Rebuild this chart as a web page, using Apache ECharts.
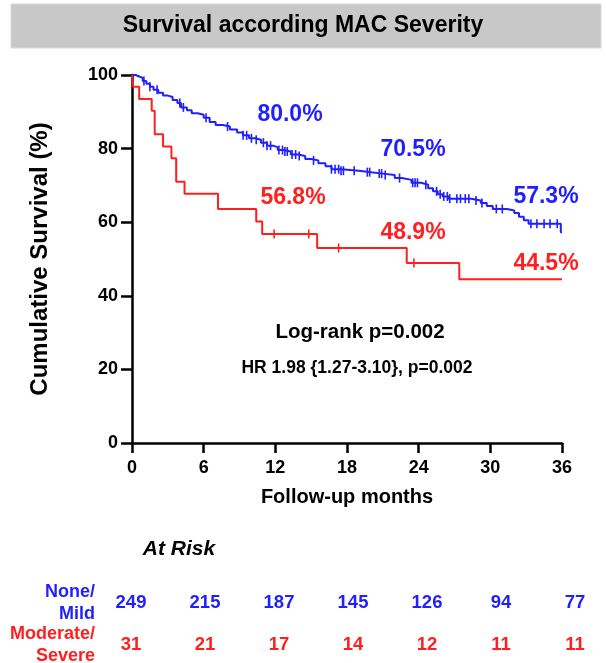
<!DOCTYPE html>
<html><head><meta charset="utf-8">
<script src="https://cdn.jsdelivr.net/npm/echarts@6/dist/echarts.min.js"></script>
<style>html,body{margin:0;padding:0;background:#fff}#c{width:606px;height:663px}</style>
</head><body><div id="c"></div>
<script>
// ---- data ----
const xTicks = [0, 6, 12, 18, 24, 30, 36];
const yTicks = [0, 20, 40, 60, 80, 100];

// Kaplan-Meier steps: [month, survival % after the drop]
const blueSteps = [
  [0,100],[0.3,99.6],[0.6,99.2],[0.9,98.4],[1.2,97.6],[1.5,96.8],[1.8,96.0],[2.2,95.2],
  [2.6,94.4],[3.0,94.0],[3.4,93.2],[3.8,92.4],[4.1,91.2],[4.6,90.4],[5.0,89.6],[5.5,89.2],
  [6.0,88.4],[6.5,87.2],[7.0,86.4],[7.6,86.0],[8.2,85.2],[8.8,84.4],[9.3,83.6],[9.8,82.8],
  [10.3,82.4],[10.8,81.6],[11.3,80.8],[11.8,80.4],[12.2,79.6],[12.7,79.2],[13.3,78.4],
  [13.9,78.0],[14.5,77.2],[15.0,76.8],[15.6,76.0],[16.2,75.2],[16.7,74.4],[17.5,74.0],
  [19.0,73.6],[20.0,73.2],[21.0,72.8],[22.0,72.0],[22.6,71.5],[23.4,70.7],[24.2,70.2],
  [24.8,69.2],[25.2,68.4],[25.6,67.6],[26.0,67.0],[26.5,66.4],[28.4,65.9],[29.2,65.2],
  [29.7,64.4],[30.2,63.6],[31.4,63.2],[32.0,62.5],[32.4,61.5],[32.8,60.5],[33.2,59.6],
  [35.9,57.3],[36,57.3]
];
const redSteps = [
  [0,100],[0.1,96.8],[0.6,93.5],[1.65,90.3],[1.9,83.9],[2.6,80.6],[3.3,77.4],[3.7,71.0],
  [4.4,67.7],[7.2,63.6],[10.4,60.2],[10.9,56.8],[15.5,53.0],[23.0,48.9],[27.4,44.5],[36,44.5]
];
// censored observations (months)
const blueCensor = [1.0,1.5,2.1,4.0,4.3,6.2,8.0,9.3,9.6,10.0,10.4,11.0,11.3,11.6,12.3,12.6,12.8,
  13.0,13.4,13.7,14.0,15.2,16.7,17.0,17.3,17.5,17.7,18.6,19.7,19.9,20.7,20.9,21.2,22.4,23.5,
  23.7,23.9,24.6,25.5,25.8,26.1,26.4,26.6,27.2,27.5,27.9,28.2,28.8,29.3,30.5,31.0,33.4,33.9,
  34.5,35.0,35.6];
const redCensor = [11.9, 14.8, 17.3, 23.6];

const atRiskNoneMild = [249, 215, 187, 145, 126, 94, 77];
const atRiskModSevere = [31, 21, 17, 14, 12, 11, 11];

const blueAnnot = ['80.0%', '70.5%', '57.3%'];
const redAnnot = ['56.8%', '48.9%', '44.5%'];
const statsText = ['Log-rank p=0.002', 'HR 1.98 {1.27-3.10}, p=0.002'];

// ---- rendering ----
const BLUE = '#1f1fff', RED = '#ff1f1f';
const FONT = '"Liberation Sans", Arial, sans-serif';

function survAt(steps, t) {
  let v = steps[0][1];
  for (const s of steps) { if (s[0] <= t) v = s[1]; else break; }
  return v;
}

const chart = echarts.init(document.getElementById('c'), null, {renderer: 'canvas'});

const riskData = (arr, row) => arr.map((n, i) => ({value: [xTicks[i], row], label: {formatter: String(n)}}));

const txt = (x, y, text, color, size, extra) => ({
  type: 'text', x, y,
  style: Object.assign({text, fill: color, font: 'bold ' + size + 'px ' + FONT, align: 'center', verticalAlign: 'middle'}, extra || {})
});

chart.setOption({
  animation: false,
  backgroundColor: '#fff',
  grid: [
    {left: 132, right: 44, top: 75, bottom: 220},
    {left: 131, right: 31, top: 603, height: 42}
  ],
  xAxis: [
    {gridIndex: 0, type: 'value', min: 0, max: 36, interval: 6,
     axisLine: {show: true, onZero: false, lineStyle: {color: '#000', width: 2.5}},
     axisTick: {show: true, length: 10, lineStyle: {color: '#000', width: 2.5}},
     axisLabel: {color: '#000', fontFamily: FONT, fontWeight: 'bold', fontSize: 18, margin: 16},
     splitLine: {show: false},
     name: 'Follow-up months', nameLocation: 'middle', nameGap: 44,
     nameTextStyle: {color: '#000', fontFamily: FONT, fontWeight: 'bold', fontSize: 20}},
    {gridIndex: 1, type: 'value', min: 0, max: 36, show: false}
  ],
  yAxis: [
    {gridIndex: 0, type: 'value', min: 0, max: 100, interval: 20,
     axisLine: {show: true, lineStyle: {color: '#000', width: 2.5}},
     axisTick: {show: true, length: 11, lineStyle: {color: '#000', width: 2.5}},
     axisLabel: {color: '#000', fontFamily: FONT, fontWeight: 'bold', fontSize: 18, margin: 14},
     splitLine: {show: false},
     name: 'Cumulative Survival (%)', nameLocation: 'middle', nameGap: 80,
     nameTextStyle: {color: '#000', fontFamily: FONT, fontWeight: 'bold', fontSize: 24}},
    {gridIndex: 1, type: 'value', min: 0, max: 1, show: false}
  ],
  series: [
    {type: 'line', step: 'end', data: blueSteps, showSymbol: false, xAxisIndex: 0, yAxisIndex: 0,
     lineStyle: {color: BLUE, width: 2}, z: 3},
    {type: 'line', step: 'end', data: redSteps, showSymbol: false, xAxisIndex: 0, yAxisIndex: 0,
     lineStyle: {color: RED, width: 2}, z: 3},
    {type: 'scatter', data: blueCensor.map(t => [t, survAt(blueSteps, t)]), symbol: 'rect',
     symbolSize: [1.6, 9], itemStyle: {color: BLUE, opacity: 1}, z: 4},
    {type: 'scatter', data: redCensor.map(t => [t, survAt(redSteps, t)]), symbol: 'rect',
     symbolSize: [1.6, 9], itemStyle: {color: RED, opacity: 1}, z: 4},
    {type: 'scatter', xAxisIndex: 1, yAxisIndex: 1, symbolSize: 0, data: riskData(atRiskNoneMild, 1),
     itemStyle: {opacity: 1},
     label: {show: true, position: 'inside', color: BLUE, fontFamily: FONT, fontWeight: 'bold', fontSize: 18.5}},
    {type: 'scatter', xAxisIndex: 1, yAxisIndex: 1, symbolSize: 0, data: riskData(atRiskModSevere, 0),
     itemStyle: {opacity: 1},
     label: {show: true, position: 'inside', color: RED, fontFamily: FONT, fontWeight: 'bold', fontSize: 18.5}}
  ],
  graphic: [
    {type: 'rect', shape: {x: 11, y: 4, width: 590, height: 44}, style: {fill: '#c8c8c8', stroke: '#d8d8d8', lineWidth: 1}},
    txt(303, 26, 'Survival according MAC Severity', '#000', 23),
    txt(290, 115, blueAnnot[0], BLUE, 23),
    txt(413, 150, blueAnnot[1], BLUE, 23),
    txt(546, 197, blueAnnot[2], BLUE, 23),
    txt(293, 198, redAnnot[0], RED, 23),
    txt(413, 233, redAnnot[1], RED, 23),
    txt(546, 264, redAnnot[2], RED, 23),
    txt(360, 332, statsText[0], '#000', 20.5),
    txt(357, 368, statsText[1], '#000', 17.5),
    txt(179, 549, 'At Risk', '#000', 21, {font: 'italic bold 21px ' + FONT}),
    txt(95, 603, 'None/\nMild', BLUE, 18, {align: 'right', lineHeight: 22}),
    txt(95, 645, 'Moderate/\nSevere', RED, 18, {align: 'right', lineHeight: 22})
  ]
});
</script>
</body></html>
